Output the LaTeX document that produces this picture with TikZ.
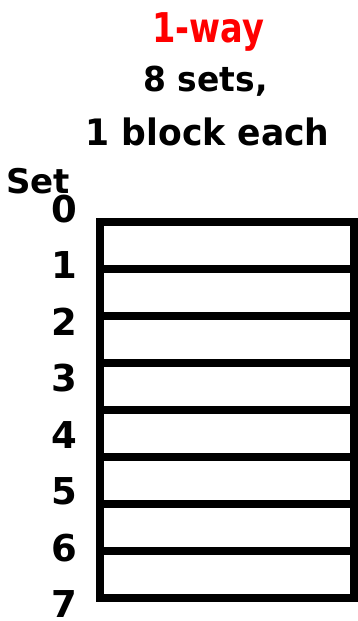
\documentclass[tikz,border=0pt]{standalone}
\usepackage{fontspec}
\setmainfont{DejaVu Sans}
\usepackage{graphicx}
\begin{document}
\begin{tikzpicture}[x=1pt,y=-1pt,
  cell/.style={draw=black,line width=8pt,minimum width=254pt,minimum height=47pt,inner sep=0pt,outer sep=0pt},
  idx/.style={font=\bfseries\fontsize{37}{37}\selectfont,anchor=base,inner sep=0pt},
  title/.style={anchor=base,inner sep=0pt}]
\useasboundingbox (0,0) rectangle (357,621);
\foreach \i in {0,...,7} \node[cell] (row\i) at (227,{245.5+47*\i}) {};
\foreach \i in {0,...,7} \node[idx] (lab\i) at (64.5,{222+56.5*\i}) {\i};
\node[title,text=red,font=\bfseries\fontsize{41}{41}\selectfont] (way) at (208.5,42.7) {\scalebox{0.82}[1]{1-way}};
\node[title,font=\bfseries\fontsize{34.3}{34.3}\selectfont] (sets) at (205.5,91.7) {\scalebox{0.96}[1]{8 sets,}};
\node[title,font=\bfseries\fontsize{36.4}{36.4}\selectfont] (each) at (207.5,145) {\scalebox{0.95}[1]{1 block each}};
\node[font=\bfseries\fontsize{34}{34}\selectfont,anchor=base west,inner sep=0pt] (setlab) at (6,193) {Set};
\end{tikzpicture}
\end{document}
